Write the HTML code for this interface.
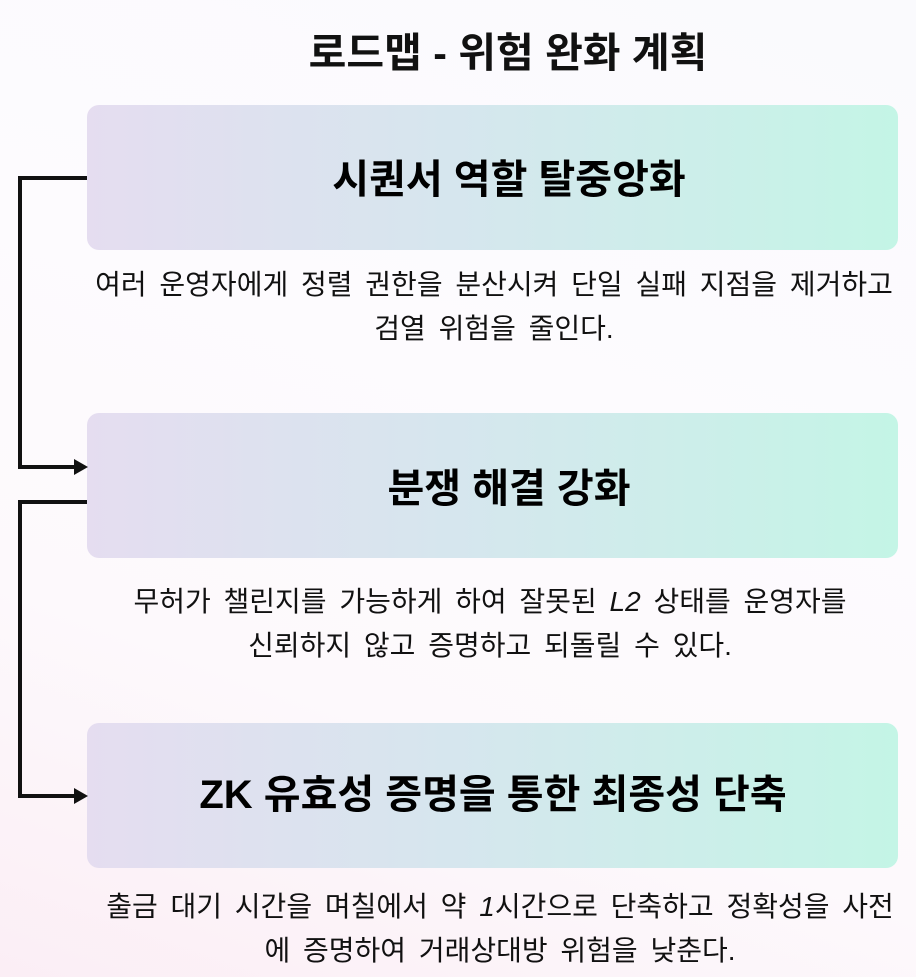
<!DOCTYPE html>
<html><head><meta charset="utf-8"><style>
html,body{margin:0;padding:0}
body{width:916px;height:977px;position:relative;overflow:hidden;background:linear-gradient(20deg,#fbeef5 0%,#fdf9fc 30%,#fdfbfe 60%,#fafafd 100%);font-family:"Liberation Sans","Noto Sans CJK KR",sans-serif;color:#111}
.t{position:absolute;white-space:nowrap;text-align:center;transform:translateX(-50%)}
.box{position:absolute;left:87px;width:811px;height:145px;border-radius:12px;background:linear-gradient(90deg,#e5ddf0 0%,#d6e6ee 45%,#c4f5e6 100%)}
.h{font-size:40px;line-height:46px;font-weight:bold;color:#000}
.d{font-size:28px;line-height:44px;word-spacing:5px}
</style></head><body>
<div class="t" style="left:508px;top:30px;font-size:41px;line-height:46px;font-weight:bold">로드맵 - 위험 완화 계획</div>
<div class="box" style="top:105px"></div>
<div class="box" style="top:413px"></div>
<div class="box" style="top:723px"></div>
<div class="t h" style="left:509px;top:157px">시퀀서 역할 탈중앙화</div>
<div class="t h" style="left:509px;top:466px">분쟁 해결 강화</div>
<div class="t h" style="left:493px;top:772px">ZK 유효성 증명을 통한 최종성 단축</div>
<div class="t d" style="left:494px;top:263px">여러 운영자에게 정렬 권한을 분산시켜 단일 실패 지점을 제거하고<br>검열 위험을 줄인다.</div>
<div class="t d" style="left:490px;top:580px">무허가 챌린지를 가능하게 하여 잘못된 <i>L2</i> 상태를 운영자를<br>신뢰하지 않고 증명하고 되돌릴 수 있다.</div>
<div class="t d" style="left:500px;top:885px">출금 대기 시간을 며칠에서 약 <i>1</i>시간으로 단축하고 정확성을 사전<br>에 증명하여 거래상대방 위험을 낮춘다.</div>
<svg width="916" height="977" style="position:absolute;left:0;top:0">
<g fill="none" stroke="#111" stroke-width="4">
<polyline points="87,178 20,178 20,467 76,467"/>
<polyline points="87,502 20,502 20,796 76,796"/>
</g>
<polygon points="74,459 88,467 74,475" fill="#111"/>
<polygon points="74,788 88,796 74,804" fill="#111"/>
</svg>
</body></html>
